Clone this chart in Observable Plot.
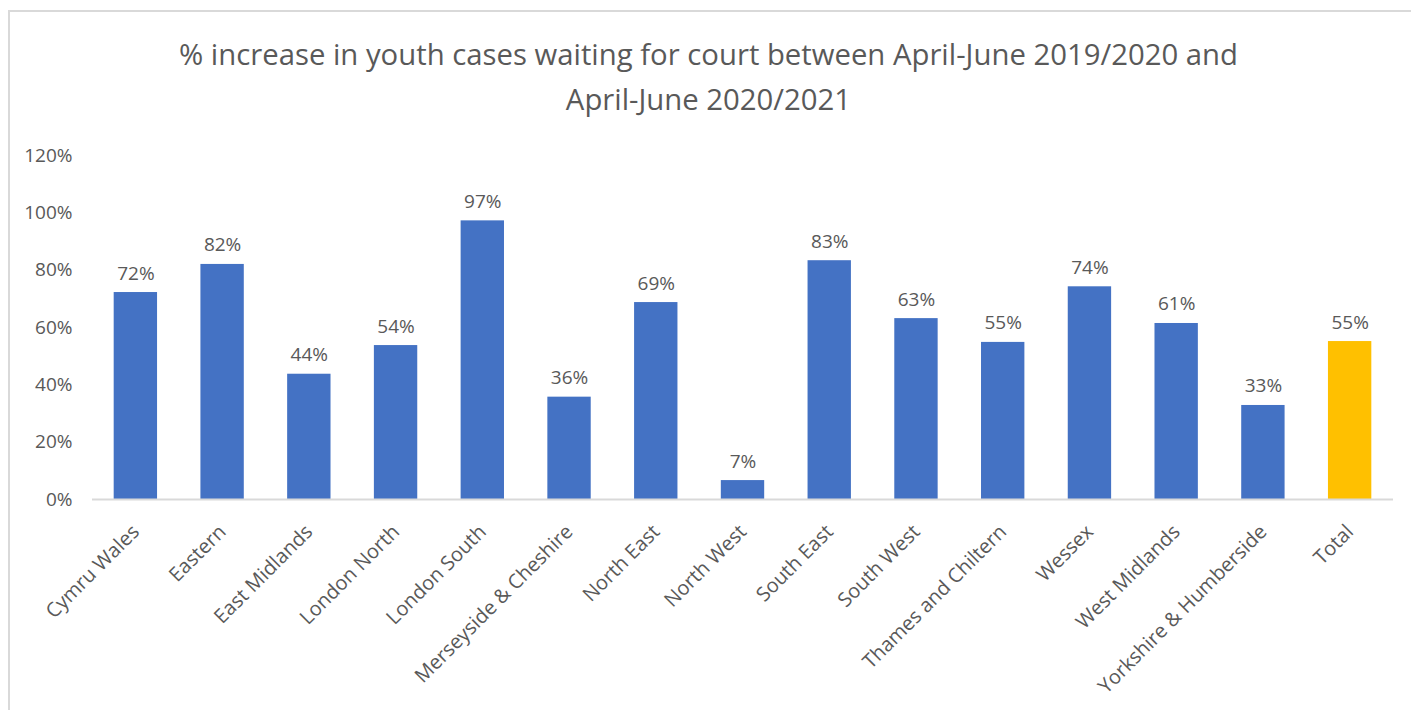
<!DOCTYPE html>
<html>
<head>
<meta charset="utf-8">
<script src="https://cdn.jsdelivr.net/npm/d3@7"></script>
<script src="https://cdn.jsdelivr.net/npm/@observablehq/plot@0.6"></script>
<style>
  html, body { margin: 0; padding: 0; background: #fff; }
  #wrap { position: relative; width: 1411px; height: 710px; overflow: hidden; font-family: "Open Sans", sans-serif; }
  #frame { position: absolute; left: 8px; top: 10px; width: 1420px; height: 720px; border: 2px solid #d9d9d9; box-sizing: border-box; pointer-events: none; }
  #title { height: 140px; box-sizing: border-box; padding-top: 32px; padding-left: 6px; text-align: center; color: #595959; font-size: 29.3px; line-height: 45px; }
</style>
</head>
<body>
<div id="wrap">
  <div id="title">% increase in youth cases waiting for court between April-June 2019/2020 and<br>April-June 2020/2021</div>
  <div id="chart"></div>
  <div id="frame"></div>
</div>
<script>
const regions = ["Cymru Wales", "Eastern", "East Midlands", "London North", "London South", "Merseyside & Cheshire", "North East", "North West", "South East", "South West", "Thames and Chiltern", "Wessex", "West Midlands", "Yorkshire & Humberside", "Total"];
const increase = [0.722, 0.82, 0.437, 0.537, 0.972, 0.357, 0.687, 0.066, 0.833, 0.631, 0.548, 0.742, 0.614, 0.328, 0.551];
const yTicks = [0, 0.2, 0.4, 0.6, 0.8, 1.0, 1.2];
const barColors = {region: "#4472C4", total: "#FFC000"};

const data = regions.map((r, i) => ({region: r, value: increase[i], kind: r === "Total" ? "total" : "region"}));

const chart = Plot.plot({
  width: 1411,
  height: 570,
  marginLeft: 92,
  marginRight: 18,
  marginTop: 15,
  marginBottom: 211,
  style: {fontFamily: "Open Sans, sans-serif", fontSize: "19px", color: "#595959", background: "transparent"},
  x: {domain: regions, paddingInner: 0.5, paddingOuter: 0.25, round: false, label: null},
  y: {domain: [0, 1.2], label: null},
  marks: [
    Plot.axisY({ticks: yTicks, tickFormat: d3.format(".0%"), tickSize: 0, tickPadding: 20, fontSize: 19, fill: "#595959"}),
    Plot.axisX({tickRotate: -45, tickSize: 0, tickPadding: 29, fontSize: 20, fill: "#595959", label: null}),
    Plot.barY(data, {x: "region", y: "value", fill: d => barColors[d.kind]}),
    Plot.ruleY([0], {stroke: "#d9d9d9", strokeWidth: 2}),
    Plot.text(data, {x: "region", y: "value", text: d => d3.format(".0%")(d.value), lineAnchor: "bottom", dy: -13, fontSize: 19, fill: "#595959"})
  ]
});
document.getElementById("chart").appendChild(chart);
</script>
</body>
</html>
